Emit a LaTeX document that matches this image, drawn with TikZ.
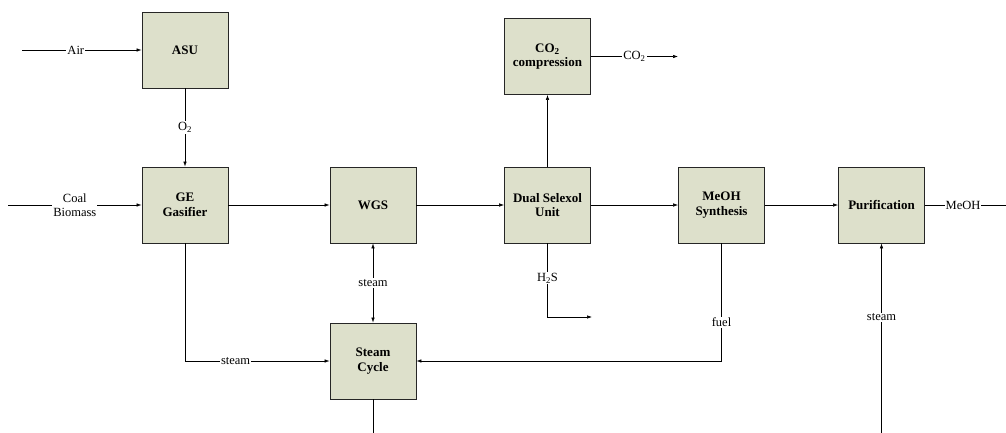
\documentclass[tikz,border=0pt]{standalone}
\usepackage{fontspec}
\setmainfont{Liberation Serif}
\usetikzlibrary{arrows.meta}
\definecolor{boxfill}{RGB}{221,224,203}
\tikzset{
  unit/.style={draw=black!85, line width=0.8pt, fill=boxfill, minimum width=86pt, minimum height=76pt, align=center, font=\fontsize{13}{14.5}\selectfont\bfseries, inner sep=1pt},
  flow/.style={draw=black, line width=0.6pt, -{Latex[length=5pt,width=3.5pt]}},
  plain/.style={draw=black, line width=0.6pt},
  lbl/.style={fill=white, inner sep=1pt, font=\fontsize{12.5}{14}\selectfont, align=center},
}
\begin{document}
\begin{tikzpicture}[x=1pt,y=-1pt]
\useasboundingbox (0,0) rectangle (1006,433);
\node[unit] (asu) at (185,50) {ASU};
\node[unit] (ge) at (185,205) {GE\\Gasifier};
\node[unit] (wgs) at (373,205) {WGS};
\node[unit] (sel) at (547.5,205) {Dual Selexol\\Unit};
\node[unit] (co2) at (547.5,56.5) {CO\textsubscript{2}\\compression};
\node[unit] (meoh) at (721.5,205) {MeOH\\Synthesis};
\node[unit] (pur) at (881.5,205) {Purification};
\node[unit] (sc) at (373,361) {Steam\\Cycle};

\coordinate (airin) at (22,50);
\coordinate (coalin) at (8,205);
\coordinate (co2out) at (678,56.5);
\coordinate (h2sc) at (547.5,317);
\coordinate (h2sout) at (592,317);
\coordinate (gec) at (185,361);
\coordinate (fuelc) at (721.5,361);
\coordinate (stin) at (881.5,433);
\coordinate (scout) at (373,433);
\coordinate (meohout) at (1006,205);

\draw[flow] (airin) -- node[lbl, pos=0.45]{Air} (asu);
\draw[flow] (coalin) -- node[lbl, pos=0.5]{Coal\\Biomass} (ge);
\draw[flow] (asu) -- node[lbl]{O\textsubscript{2}} (ge);
\draw[flow] (ge) -- (wgs);
\draw[flow] (wgs) -- (sel);
\draw[flow] (sel) -- (co2);
\draw[flow] (co2) -- node[lbl, pos=0.5]{CO\textsubscript{2}} (co2out);
\draw[flow] (sel) -- (meoh);
\draw[flow] (meoh) -- (pur);
\draw[plain] (pur) -- node[lbl, pos=0.47]{MeOH} (meohout);
\draw[flow] (sel) -- node[lbl, pos=0.47]{H\textsubscript{2}S} (h2sc) -- (h2sout);
\draw[line width=0.6pt, {Latex[length=5pt,width=3.5pt]}-{Latex[length=5pt,width=3.5pt]}] (wgs) -- node[lbl]{steam} (sc);
\draw[flow] (ge) -- (gec) -- node[lbl, pos=0.35]{steam} (sc);
\draw[flow] (meoh) -- node[lbl, pos=0.67]{fuel} (fuelc) -- (sc);
\draw[flow] (stin) -- node[lbl, pos=0.61]{steam} (pur);
\draw[plain] (sc) -- (scout);
\end{tikzpicture}
\end{document}
